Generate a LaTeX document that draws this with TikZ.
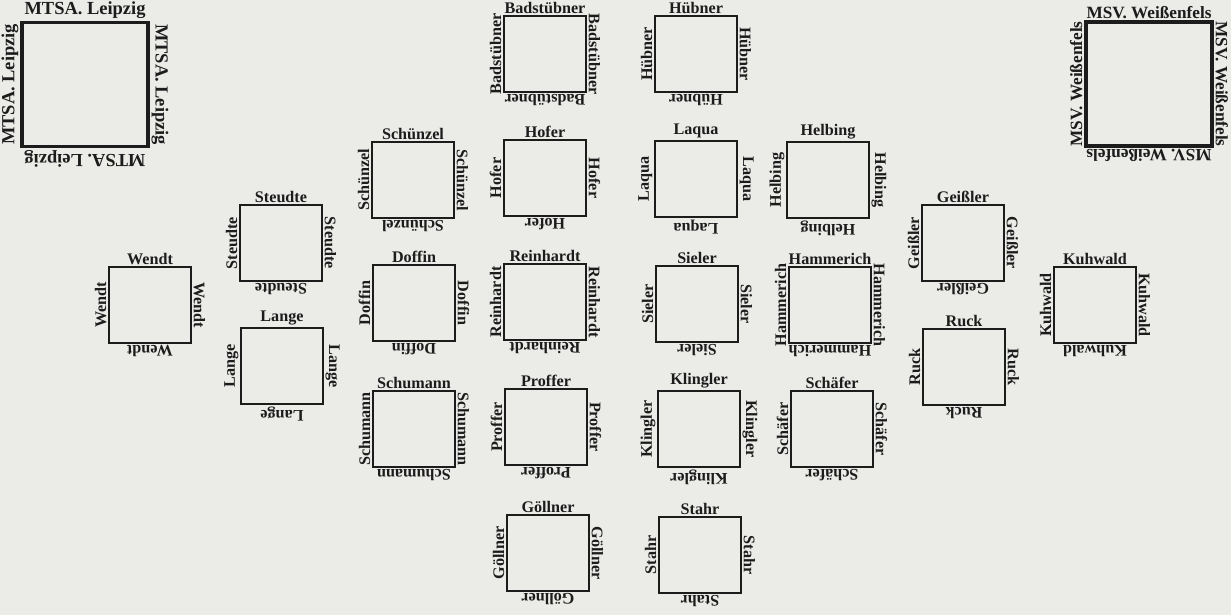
\documentclass[tikz,border=0pt]{standalone}
\usepackage{fontspec}
\setmainfont{Liberation Serif}
\usetikzlibrary{positioning}
\definecolor{papier}{HTML}{EBEBE8}
\definecolor{tinte}{HTML}{1C1C1C}
\tikzset{
  feld/.style  ={draw=tinte, line width=0.9pt, minimum width=1.64cm, minimum height=1.52cm,
                 inner sep=0pt, outer sep=0pt},
  verein/.style={draw=tinte, line width=2.2pt, minimum width=2.52cm, minimum height=2.48cm,
                 inner sep=0pt, outer sep=0pt},
  nm/.style    ={anchor=south, inner sep=1.3pt, text=tinte,
                 font=\bfseries\fontsize{9.2}{9.2}\selectfont},
  vnm/.style   ={anchor=south, inner sep=1.8pt, text=tinte,
                 font=\bfseries\fontsize{10.5}{10.5}\selectfont},
}
% box with its name on all four sides
\newcommand\viereck[5]{%
  \node[#1] (#3) at (#4) {};
  \node[#2] (#3-n) at (#3.north) {#5};
  \node[#2,rotate=90] (#3-w) at (#3.west) {#5};
  \node[#2,rotate=-90] (#3-o) at (#3.east) {#5};
  \node[#2,rotate=180] (#3-s) at (#3.south) {#5};
}
\newcommand\spieler[3]{\viereck{feld}{nm}{#1}{#2}{#3}}

\begin{document}
\begin{tikzpicture}[x=0.02cm,y=-0.02cm]
  \fill[papier] (0,0) rectangle (1231,615);
  \useasboundingbox (0,0) rectangle (1231,615);

  \viereck{verein}{vnm}{mtsa}{85,84.5}{MTSA. Leipzig}
  \viereck{verein}{vnm,font=\bfseries\fontsize{9.8}{9.8}\selectfont}{msv}{1149,84}{MSV. Weißenfels}

  \spieler{badstuebner}{545,54}{Badstübner}
  \spieler{huebner}{696,54}{Hübner}

  \spieler{schuenzel}{413,180}{Schünzel}
  \spieler{hofer}{545,178}{Hofer}
  \spieler{laqua}{696,179}{Laqua}
  \spieler{helbing}{828,180}{Helbing}

  \spieler{steudte}{281,243}{Steudte}
  \spieler{geissler}{963,243}{Geißler}

  \spieler{wendt}{150,305}{Wendt}
  \spieler{doffin}{414,303}{Doffin}
  \spieler{reinhardt}{545,302}{Reinhardt}
  \spieler{sieler}{697,304}{Sieler}
  \spieler{hammerich}{830,305}{Hammerich}
  \spieler{kuhwald}{1095,305}{Kuhwald}

  \spieler{lange}{282,366}{Lange}
  \spieler{ruck}{964,367}{Ruck}

  \spieler{schumann}{414,429}{Schumann}
  \spieler{proffer}{546,427}{Proffer}
  \spieler{klingler}{699,429}{Klingler}
  \spieler{schaefer}{832,429}{Schäfer}

  \spieler{goellner}{548,553}{Göllner}
  \spieler{stahr}{700,555}{Stahr}
\end{tikzpicture}
\end{document}
